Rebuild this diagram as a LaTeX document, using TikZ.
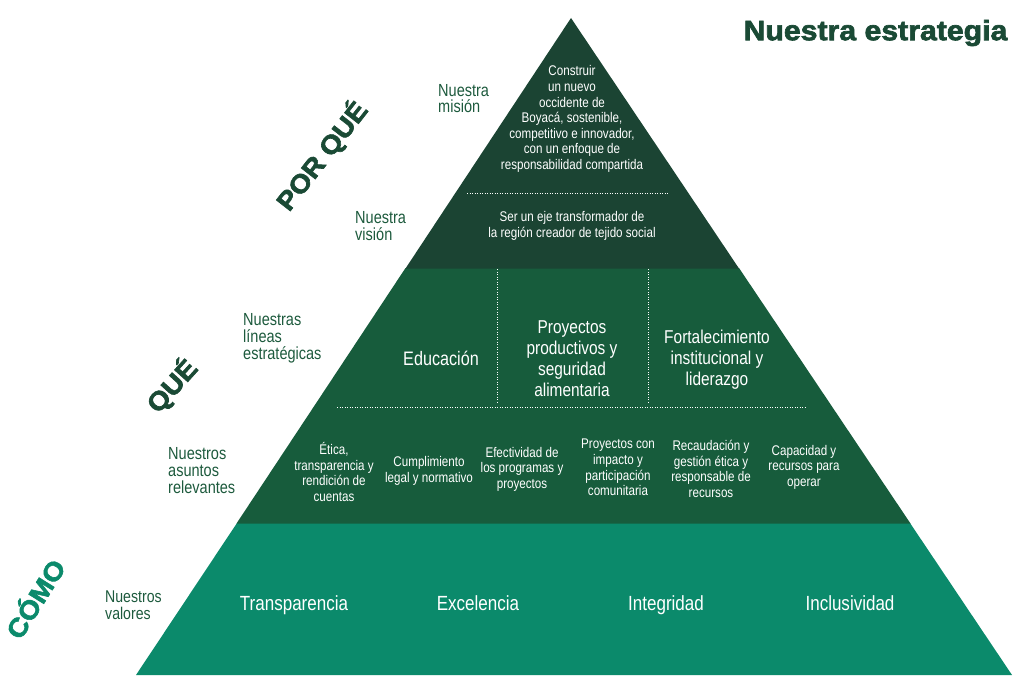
\documentclass[tikz,border=0pt]{standalone}
\usepackage{fontspec}
\setmainfont{Liberation Sans}
\newfontfamily\cond[FakeStretch=0.83]{Liberation Sans}
\newfontfamily\heavy[BoldFeatures={FakeBold=2.4,FakeStretch=1.08}]{Liberation Sans}
\definecolor{dkgreen}{HTML}{1B4433}
\definecolor{mdgreen}{HTML}{175C3C}
\definecolor{tlgreen}{HTML}{0B8A6B}
\definecolor{labgreen}{HTML}{1D5A3D}
\definecolor{titgreen}{HTML}{1A4A35}
\begin{document}
\begin{tikzpicture}[x=1pt,y=-1pt,
 lab/.style={text=labgreen, font=\cond\fontsize{17.5}{16.8}\selectfont, align=left, inner sep=0, anchor=west},
 wtxt/.style={text=white, align=center, inner sep=0},
 smalltxt/.style={wtxt, font=\cond\fontsize{14}{15.6}\selectfont},
 bigtxt/.style={wtxt, font=\cond\fontsize{18.6}{21}\selectfont},
 valtxt/.style={wtxt, font=\cond\fontsize{20.5}{21}\selectfont, anchor=base},
 rottxt/.style={font=\heavy\bfseries\fontsize{26}{26}\selectfont, inner sep=0},
 dots/.style={white, line width=0.9pt, dash pattern=on 0.9pt off 1.6pt}]
\useasboundingbox (0,0) rectangle (1024,685);
% pyramid
\fill[tlgreen] (237,523) -- (910,523) -- (1012,675) -- (136,675) -- cycle;
\fill[mdgreen] (405.5,268) -- (739,268) -- (910.5,523.5) -- (236.5,523.5) -- cycle;
\fill[dkgreen] (571,18) -- (739,268.5) -- (405.5,268.5) -- cycle;
% dotted separators
\coordinate (d1a) at (467,193); \coordinate (d1b) at (668,193);
\draw[dots] (d1a) -- (d1b);
\coordinate (d2a) at (497,269); \coordinate (d2b) at (497,403);
\draw[dots] (d2a) -- (d2b);
\coordinate (d3a) at (648,269); \coordinate (d3b) at (648,403);
\draw[dots] (d3a) -- (d3b);
\coordinate (d4a) at (337,407); \coordinate (d4b) at (805,407);
\draw[dots] (d4a) -- (d4b);
% title
\node[text=titgreen, font=\heavy\bfseries\fontsize{28}{28}\selectfont, inner sep=0] (title) at (875.5,33) {Nuestra estrategia};
% rotated labels
\node[rottxt, text=titgreen, rotate=52] (porque) at (322,156) {POR QUÉ};
\node[rottxt, text=titgreen, rotate=48] (que) at (172,386) {QUÉ};
\node[rottxt, text=tlgreen, rotate=58] (como) at (34,598) {CÓMO};
% left labels
\node[lab] (lmision) at (438,98.5) {Nuestra\\misión};
\node[lab] (lvision) at (355,226) {Nuestra\\visión};
\node[lab] (llineas) at (243,338.5) {Nuestras\\líneas\\estratégicas};
\node[lab] (lasuntos) at (168,470.5) {Nuestros\\asuntos\\relevantes};
\node[lab, font=\cond\fontsize{17}{16.5}\selectfont] (lvalores) at (105,605) {Nuestros\\valores};
% mission / vision
\node[smalltxt] (mision) at (572,119) {Construir\\un nuevo\\occidente de\\Boyacá, sostenible,\\competitivo e innovador,\\con un enfoque de\\responsabilidad compartida};
\node[smalltxt] (vision) at (572,226) {Ser un eje transformador de\\la región creador de tejido social};
% strategic lines
\node[bigtxt, font=\cond\fontsize{19.5}{21}\selectfont] (educ) at (441,358) {Educación};
\node[bigtxt] (proy) at (572,358.5) {Proyectos\\productivos y\\seguridad\\alimentaria};
\node[bigtxt] (fort) at (717,360) {Fortalecimiento\\institucional y\\liderazgo};
% relevant issues
\node[smalltxt] (a1) at (334,472) {Ética,\\transparencia y\\rendición de\\cuentas};
\node[smalltxt] (a2) at (429,471) {Cumplimiento\\legal y normativo};
\node[smalltxt] (a3) at (522,469) {Efectividad de\\los programas y\\proyectos};
\node[smalltxt] (a4) at (618,467.5) {Proyectos con\\impacto y\\participación\\comunitaria};
\node[smalltxt] (a5) at (711,469) {Recaudación y\\gestión ética y\\responsable de\\recursos};
\node[smalltxt] (a6) at (804,467) {Capacidad y\\recursos para\\operar};
% values
\node[valtxt] (v1) at (294,610.5) {Transparencia};
\node[valtxt] (v2) at (478,610.5) {Excelencia};
\node[valtxt] (v3) at (666,610.5) {Integridad};
\node[valtxt] (v4) at (850,610.5) {Inclusividad};
\end{tikzpicture}
\end{document}
